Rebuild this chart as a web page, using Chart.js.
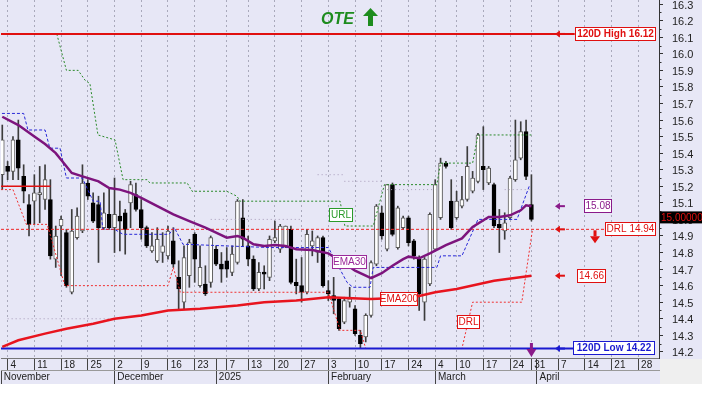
<!DOCTYPE html>
<html>
<head>
<meta charset="utf-8">
<title>OTE</title>
<script src="https://cdn.jsdelivr.net/npm/chart.js@4.4.1/dist/chart.umd.min.js"></script>
<style>
  html, body { margin: 0; padding: 0; background: #fff; }
  canvas { display: block; }
</style>
</head>
<body>
<canvas id="ote-chart" width="702" height="393"></canvas>
<script>
// daily candles, index 0 = 1 Nov 2024 ... index 99 = 31 Mar 2025 (trading days only)
const opens  = [15.27,15.32,15.29,15.48,15.26,15.09,15.11,15.15,15.12,15.12,
                14.76,14.96,14.92,14.56,14.89,14.93,15.22,15.10,15.09,14.95,
                15.03,14.95,15.02,15.04,15.10,15.15,15.06,14.95,14.81,14.75,
                14.80,14.78,14.87,14.65,14.50,14.66,14.91,14.60,14.61,14.62,
                14.82,14.73,14.75,14.68,14.74,15.01,14.84,14.76,14.58,14.68,
                14.65,14.87,14.82,14.84,14.94,14.62,14.60,14.56,14.84,14.80,
                14.89,14.57,14.54,14.52,14.38,14.50,14.46,14.30,14.29,14.42,
                14.73,15.04,14.82,15.21,14.83,14.95,15.01,14.87,14.76,14.50,
                14.61,14.82,15.01,15.34,15.11,15.01,15.08,15.12,15.17,15.23,
                15.32,15.22,15.21,14.97,14.93,15.01,15.24,15.37,15.53,15.09];
const highs  = [15.57,15.35,15.50,15.60,15.33,15.15,15.27,15.32,15.33,15.24,
                14.96,15.02,14.94,15.06,15.07,15.33,15.24,15.16,15.14,15.16,
                15.19,15.25,15.11,15.06,15.23,15.22,15.12,14.96,14.92,14.95,
                14.92,14.96,14.95,14.75,14.84,14.88,14.92,14.84,14.72,14.90,
                14.84,14.80,14.83,14.84,15.12,15.12,14.90,14.78,14.74,14.72,
                14.90,14.99,14.97,14.96,14.96,14.76,14.77,14.94,14.93,14.90,
                14.90,14.63,14.65,14.53,14.53,14.59,14.48,14.33,14.43,14.75,
                15.09,15.08,15.21,15.22,15.08,15.02,15.02,14.88,14.78,14.77,
                15.04,15.24,15.37,15.35,15.24,15.17,15.26,15.44,15.29,15.52,
                15.56,15.32,15.22,15.06,15.04,15.26,15.60,15.59,15.60,15.27];
const lows   = [15.18,15.24,15.24,15.24,15.10,14.90,14.97,14.98,15.06,14.76,
                14.71,14.66,14.59,14.55,14.88,14.92,15.12,14.98,14.74,14.94,
                14.94,14.80,14.81,14.79,14.95,15.05,14.88,14.83,14.80,14.74,
                14.74,14.76,14.71,14.46,14.46,14.59,14.62,14.59,14.54,14.59,
                14.72,14.62,14.65,14.66,14.73,14.84,14.72,14.57,14.57,14.58,
                14.63,14.86,14.80,14.83,14.61,14.55,14.50,14.55,14.78,14.74,
                14.59,14.51,14.43,14.33,14.37,14.47,14.30,14.22,14.26,14.41,
                14.72,14.88,14.81,14.90,14.82,14.94,14.84,14.76,14.45,14.39,
                14.60,14.81,15.00,15.31,14.94,15.00,15.07,15.11,15.16,15.22,
                15.18,15.21,14.95,14.80,14.88,15.00,15.23,15.36,15.24,14.99];
const closes = [15.48,15.29,15.48,15.31,15.17,14.97,15.16,15.16,15.24,14.78,
                14.90,15.00,14.60,14.93,15.02,15.22,15.14,14.99,14.95,15.04,
                14.95,15.03,14.99,14.94,15.21,15.06,14.95,14.84,14.84,14.88,
                14.84,14.93,14.73,14.58,14.77,14.86,14.76,14.71,14.55,14.89,
                14.73,14.70,14.70,14.79,15.11,14.88,14.76,14.58,14.68,14.67,
                14.88,14.89,14.96,14.96,14.62,14.60,14.56,14.91,14.87,14.89,
                14.60,14.55,14.51,14.34,14.51,14.52,14.31,14.25,14.42,14.74,
                15.08,14.90,15.21,14.91,15.07,15.01,14.86,14.78,14.55,14.76,
                15.03,15.21,15.34,15.32,14.95,15.11,15.12,15.32,15.25,15.51,
                15.30,15.31,14.96,14.95,14.98,15.25,15.36,15.53,15.26,15.00];

// EMA 30 / EMA 200, read at the marked day positions
const ema30Day  = [0,3,6,8,10,11,13,15,18,20,22,24,26,29,32,35,38,40,42,44,45,47,49,51,53,55,58,61,64,66,68,69,71,73,75,76,78,80,83,86,88,91,93,95,97,98,99];
const ema30Val  = [15.62,15.57,15.50,15.455,15.40,15.36,15.28,15.26,15.23,15.19,15.18,15.16,15.13,15.08,15.03,14.99,14.95,14.92,14.89,14.90,14.89,14.85,14.84,14.845,14.84,14.82,14.815,14.795,14.735,14.69,14.66,14.645,14.675,14.72,14.76,14.775,14.765,14.795,14.845,14.885,14.955,15.015,15.015,15.025,15.055,15.085,15.08];
const ema200Day = [0,3,8,12,17,21,26,31,37,44,49,55,61,69,77,81,85,92,99];
const ema200Val = [14.23,14.27,14.31,14.34,14.37,14.40,14.42,14.45,14.46,14.48,14.50,14.51,14.53,14.52,14.53,14.56,14.58,14.63,14.66];

// trailing lines
const urlDay  = [10.2,12,14.2,15.5,16.4,17.9,21.1,22.6,27.1,27.6,34.6,35.5,42,43.9,44.5,63.2,64.1,69.4,71.5,81.3,82,88,89,99];
const urlVal  = [16.12,15.90,15.90,15.84,15.82,15.51,15.48,15.24,15.24,15.22,15.22,15.17,15.17,15.14,15.11,15.11,14.96,14.96,15.21,15.21,15.34,15.34,15.51,15.51];
const drlDay  = [-1,2,4.5,8.4,11.7,31,32,33.3,61,63.2,67,68,86,88,97.2,99.2];
const drlVal  = [15.18,15.18,14.97,14.97,14.60,14.60,14.71,14.56,14.56,14.33,14.33,14.22,14.22,14.50,14.50,14.94];
const bandDay = [-1,4,4.8,8,8.9,10.8,12,15,17,18.3,18.8,21,22.6,31.2,32.2,33.8,50,61,64.5,65.6,68.8,69.4,81.3,82,86,89,96.3,98.7];
const bandVal = [15.64,15.64,15.54,15.54,15.43,15.43,15.25,15.25,15.11,15.11,14.94,14.94,14.91,14.91,14.95,14.85,14.83,14.83,14.62,14.59,14.59,14.71,14.71,14.78,14.78,15.00,15.00,15.21];
// faint dotted helper levels (null = gap)
const faintDay = [1,21,null,39,56,null,59,64,null,64,71,null,72,81,null,94,99];
const faintVal = [14.40,14.40,null,15.00,15.00,null,15.27,15.27,null,15.23,15.23,null,15.18,15.18,null,15.18,15.18];

// levels
const high120 = 16.12;
const low120 = 14.22;
const drlLevel = 14.94;
const oldLevel = 15.20;
const lastClose = 15.00;

// axis ticks
const yTicks = [14.2,14.3,14.4,14.5,14.6,14.7,14.8,14.9,15.0,15.1,15.2,15.3,15.4,15.5,15.6,15.7,15.8,15.9,16.0,16.1,16.2,16.3];
const weekTickDay = [1,6,11,16,21,26,31,36,42,46,51,56,61,66,71,76,81,85,90,95,99,104,109,114,119];
const weekTickLabels = ["4","11","18","25","2","9","16","23","7","13","20","27","3","10","17","24","4","10","17","24","31","7","14","21","28"];
const monthDay = [-0.24,21,40,61,81,100];
const monthLabels = ["November","December","2025","February","March","April"];

const X_MIN = -0.24, X_MAX = 122.87;
const FONT = '"Liberation Sans", Arial, sans-serif';
const BG = '#e7e7f6';

const pts = (xs, ys) => xs.map((x, i) => (x === null ? { x: null, y: null } : { x: x, y: ys[i] }));
const isUp = i => closes[i] >= opens[i];

function box(c, text, x, yc, color, bold, w) {
  c.font = (bold ? 'bold ' : '') + '10px ' + FONT;
  const tw = c.measureText(text).width;
  const bw = w || Math.round(tw + 5);
  const top = Math.round(yc - 7);
  c.fillStyle = '#ffffff';
  c.fillRect(Math.round(x), top, bw, 14);
  c.strokeStyle = color;
  c.lineWidth = 1;
  c.strokeRect(Math.round(x) + 0.5, top + 0.5, bw - 1, 13);
  c.fillStyle = color;
  c.textAlign = 'left';
  c.textBaseline = 'middle';
  c.fillText(text, Math.round(x) + (bw - tw) / 2, top + 7.5);
}

function leftArrow(c, x, y, color) {
  c.strokeStyle = color;
  c.fillStyle = color;
  c.lineWidth = 2;
  c.beginPath(); c.moveTo(x + 3, y); c.lineTo(x + 10, y); c.stroke();
  c.beginPath(); c.moveTo(x, y); c.lineTo(x + 5, y - 3.5); c.lineTo(x + 5, y + 3.5); c.closePath(); c.fill();
}

function blockArrow(c, cx, tip, tail, shaftW, headW, headH, color) {
  // tip above tail -> up arrow, tip below tail -> down arrow
  const dir = tip < tail ? 1 : -1;
  const base = tip + dir * headH;
  c.fillStyle = color;
  c.fillRect(cx - shaftW / 2, Math.min(base, tail), shaftW, Math.abs(tail - base));
  c.beginPath();
  c.moveTo(cx, tip);
  c.lineTo(cx - headW / 2, base);
  c.lineTo(cx + headW / 2, base);
  c.closePath();
  c.fill();
}

const backdrop = {
  id: 'backdrop',
  beforeDraw(chart) {
    const c = chart.ctx;
    c.save();
    c.fillStyle = '#ffffff';
    c.fillRect(0, 0, chart.width, chart.height);
    c.fillStyle = BG;
    c.fillRect(0, 0, chart.width, 384);
    c.fillStyle = '#efefef';
    c.fillRect(chart.chartArea.right + 1, 359, chart.width, 25);
    c.restore();
  }
};

const marks = {
  id: 'marks',
  afterDatasetsDraw(chart) {
    const c = chart.ctx;
    const xs = chart.scales.x, ys = chart.scales.y;
    const X = d => xs.getPixelForValue(d);
    const Y = v => ys.getPixelForValue(v);
    c.save();
    // right side tags
    leftArrow(c, X(103.4), Y(high120), '#e01010');
    box(c, '120D High 16.12', X(107.1), Y(high120), '#e01010', true, 81);
    leftArrow(c, X(103.4), Y(low120), '#1a1ad0');
    box(c, '120D Low 14.22', X(106.8), Y(low120) - 1, '#1a1ad0', true, 82);
    leftArrow(c, X(103.4), Y(15.08), '#8a1a8a');
    box(c, '15.08', X(108.8), Y(15.08), '#8a1a8a', false, 28);
    leftArrow(c, X(103.4), Y(drlLevel), '#e01010');
    box(c, 'DRL 14.94', X(112.8), Y(drlLevel), '#e01010', false, 51);
    blockArrow(c, X(110.9), Y(drlLevel) + 14, Y(drlLevel) + 1, 3, 10, 7, '#e01010');
    leftArrow(c, X(103.4), Y(14.66), '#e01010');
    box(c, '14.66', X(107.5), Y(14.66), '#e01010', false, 29);
    blockArrow(c, X(99), 357, 343, 3, 10, 8, '#8a1a8a');
    // in-chart line names
    box(c, 'URL', X(61.1), Y(15.027), '#2a9a2a', false, 24);
    box(c, 'EMA30', X(61.6), Y(14.743), '#9a2a9a', false, 35);
    box(c, 'EMA200', X(70.7), Y(14.517), '#e01010', false, 38);
    box(c, 'DRL', X(85.1), Y(14.378), '#e01010', false, 23);
    c.restore();
  },
  afterDraw(chart) {
    const c = chart.ctx;
    const ys = chart.scales.y;
    const right = chart.chartArea.right;
    c.save();
    // minor ticks on price axis
    c.strokeStyle = '#333';
    c.lineWidth = 1;
    yTicks.forEach(v => {
      const y = Math.round(ys.getPixelForValue(v + 0.05)) + 0.5;
      c.beginPath(); c.moveTo(right, y); c.lineTo(right + 2.5, y); c.stroke();
    });
    // last price tag
    const yl = ys.getPixelForValue(lastClose) - 2;
    c.fillStyle = '#000';
    c.fillRect(right + 1, yl - 6, chart.width - right, 12);
    c.fillStyle = '#e01010';
    c.font = '10px ' + FONT;
    c.textAlign = 'left';
    c.textBaseline = 'middle';
    c.fillText('15.00000', right + 2, yl + 0.5);
    // title
    c.fillStyle = '#1e8c1e';
    c.font = 'italic bold 16px ' + FONT;
    c.textBaseline = 'alphabetic';
    c.fillText('OTE', 321, 23.5);
    blockArrow(c, 370.5, 8, 26, 5, 15, 8, '#1e8c1e');
    c.restore();
  }
};

const lineDs = (label, data, color, width, dash, order) => ({
  type: 'line', label: label, data: data, borderColor: color, borderWidth: width,
  borderDash: dash, pointRadius: 0, fill: false, tension: 0, order: order,
  spanGaps: false, xAxisID: 'x', yAxisID: 'y'
});

const chart = new Chart(document.getElementById('ote-chart'), {
  type: 'line',
  data: {
    datasets: [
      lineDs('120D High', pts([X_MIN, 107.1], [high120, high120]), '#e01010', 2, [], 4),
      lineDs('120D Low', pts([X_MIN, 106.8], [low120, low120]), '#1a1ad0', 2, [], 4),
      lineDs('DRL level', pts([X_MIN, 112.8], [drlLevel, drlLevel]), '#f02424', 1, [3, 2], 4),
      lineDs('old level', pts([X_MIN, 9], [oldLevel, oldLevel]), '#e01010', 1.5, [], 4),
      lineDs('faint', pts(faintDay, faintVal), '#a79ab8', 1, [1, 3], 6),
      lineDs('URL', pts(urlDay, urlVal), '#2a8a2a', 1, [2, 2], 5),
      lineDs('DRL', pts(drlDay, drlVal), '#f03030', 1, [2, 2], 5),
      lineDs('Band', pts(bandDay, bandVal), '#2828d8', 1, [3, 2], 5),
      lineDs('EMA200', pts(ema200Day, ema200Val), '#e8141e', 2.5, [], 2),
      lineDs('EMA30', pts(ema30Day, ema30Val), '#7d147d', 2.5, [], 1),
      {
        type: 'bar', label: 'wick', order: 11, grouped: false,
        data: opens.map((o, i) => ({ x: i, y: [lows[i], highs[i]] })),
        backgroundColor: '#3c3c3c', borderWidth: 0, barThickness: 1,
        xAxisID: 'x', yAxisID: 'y'
      },
      {
        type: 'bar', label: 'body', order: 10, grouped: false,
        data: opens.map((o, i) => ({ x: i, y: [o, closes[i]] })),
        backgroundColor: ctx => isUp(ctx.dataIndex) ? '#ffffff' : '#000000',
        borderColor: ctx => isUp(ctx.dataIndex) ? '#5a5a5a' : '#000000',
        borderWidth: 1, borderSkipped: false, barThickness: 4, minBarLength: 2,
        xAxisID: 'x', yAxisID: 'y'
      }
    ]
  },
  options: {
    responsive: false,
    animation: false,
    events: [],
    layout: { padding: { left: 1, right: 0, top: 0, bottom: 9 } },
    plugins: { legend: { display: false }, tooltip: { enabled: false }, title: { display: false } },
    scales: {
      x: {
        type: 'linear', axis: 'x', position: 'bottom', weight: 0,
        min: X_MIN, max: X_MAX, offset: false,
        afterBuildTicks: s => {
          s.ticks = weekTickDay.concat([40, 100]).sort((a, b) => a - b).map(v => ({ value: v }));
        },
        afterFit: s => { s.height = 12; s.paddingLeft = 0; s.paddingRight = 0; },
        ticks: {
          autoSkip: false, maxRotation: 0, align: 'start', padding: -11,
          color: '#222', font: { family: FONT, size: 10 },
          callback: v => {
            const k = weekTickDay.indexOf(v);
            return k >= 0 ? ' ' + weekTickLabels[k] : '';
          }
        },
        grid: {
          offset: false, drawOnChartArea: true, drawTicks: true, tickLength: 12,
          color: ctx => (ctx.tick && weekTickDay.indexOf(ctx.tick.value) >= 0) ? '#a9a9bb' : 'rgba(0,0,0,0)',
          tickColor: '#444', lineWidth: 1
        },
        border: { display: true, color: '#777', dash: [2, 3] }
      },
      x2: {
        type: 'linear', axis: 'x', position: 'bottom', weight: 1,
        min: X_MIN, max: X_MAX, offset: false,
        afterBuildTicks: s => { s.ticks = monthDay.map(v => ({ value: v })); },
        afterFit: s => { s.height = 14; s.paddingLeft = 0; s.paddingRight = 0; },
        ticks: {
          autoSkip: false, maxRotation: 0, align: 'start', padding: -13,
          color: '#222', font: { family: FONT, size: 10 },
          callback: v => ' ' + monthLabels[monthDay.indexOf(v)]
        },
        grid: { offset: false, drawOnChartArea: false, drawTicks: true, tickLength: 14, tickColor: '#444' },
        border: { display: true, color: '#999' }
      },
      y: {
        type: 'linear', position: 'right', min: 14.163, max: 16.325,
        afterBuildTicks: s => { s.ticks = yTicks.map(v => ({ value: v })); },
        afterFit: s => { s.width = 43; s.paddingTop = 0; s.paddingBottom = 0; },
        ticks: {
          color: '#222', padding: 9, labelOffset: 1.5, font: { family: FONT, size: 11 },
          callback: v => v.toFixed(1)
        },
        grid: { drawOnChartArea: false, drawTicks: true, tickLength: 4, tickColor: '#333' },
        border: { display: true, color: '#333' }
      }
    }
  },
  plugins: [backdrop, marks]
});
</script>
</body>
</html>
